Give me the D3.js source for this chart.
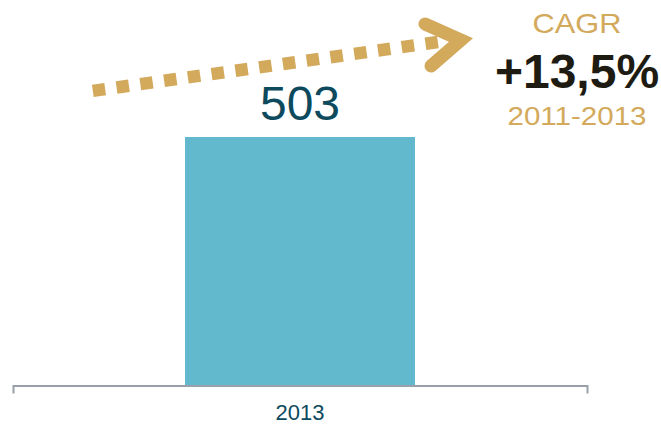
<!DOCTYPE html>
<html>
<head>
<meta charset="utf-8">
<script src="https://cdn.jsdelivr.net/npm/d3@7"></script>
<style>
  html, body { margin: 0; padding: 0; background: #fff; }
  svg { display: block; font-family: "Liberation Sans", Arial, sans-serif; }
</style>
</head>
<body>
<svg id="chart" width="661" height="426"></svg>
<script>
// data
var categories = ["2013"];
var values = [503];
var cagrTitle = "CAGR";
var cagrValue = "+13,5%";
var cagrPeriod = "2011-2013";

var width = 661, height = 426;
var baseY = 385.5, topY = 137;
var gold = "#d3a95c", teal = "#0e4a5e", barColor = "#62b8cd", axisColor = "#98a1a9";

var svg = d3.select("#chart");

var x = d3.scaleBand()
    .domain(categories)
    .range([13, 587])
    .paddingInner(0)
    .paddingOuter(0.748);

var y = d3.scaleLinear()
    .domain([0, d3.max(values)])
    .range([baseY, topY]);

// bars
svg.selectAll(".bar")
    .data(values)
    .enter().append("rect")
    .attr("class", "bar")
    .attr("x", function (d, i) { return x(categories[i]); })
    .attr("y", function (d) { return y(d); })
    .attr("width", x.bandwidth())
    .attr("height", function (d) { return baseY - y(d); })
    .attr("fill", barColor);

// value labels
svg.selectAll(".valueLabel")
    .data(values)
    .enter().append("text")
    .attr("class", "valueLabel")
    .attr("x", function (d, i) { return x(categories[i]) + x.bandwidth() / 2; })
    .attr("y", function (d) { return y(d) - 17; })
    .attr("text-anchor", "middle")
    .attr("font-size", 48)
    .attr("fill", teal)
    .text(function (d) { return d; });

// axis
var axis = svg.append("g")
    .attr("transform", "translate(0," + baseY + ")")
    .call(d3.axisBottom(x).tickSizeInner(0).tickSizeOuter(8).tickPadding(0));

axis.select(".domain")
    .attr("stroke", axisColor)
    .attr("stroke-width", 2)
    .attr("fill", "none");

axis.selectAll(".tick text")
    .attr("y", 34.5)
    .attr("dy", 0)
    .attr("font-size", 22)
    .attr("font-family", "Liberation Sans, Arial, sans-serif")
    .attr("fill", teal);

// dotted growth arrow
var arrowStart = [92.8, 90.9], arrowEnd = [438, 42];
svg.append("line")
    .attr("x1", arrowStart[0])
    .attr("y1", arrowStart[1])
    .attr("x2", arrowEnd[0])
    .attr("y2", arrowEnd[1])
    .attr("stroke", gold)
    .attr("stroke-width", 12.5)
    .attr("stroke-dasharray", "12.5 11.5")
    .attr("stroke-linecap", "butt");

svg.append("path")
    .attr("d", d3.line()([[425, 24], [461, 40], [431, 66]]))
    .attr("fill", "none")
    .attr("stroke", gold)
    .attr("stroke-width", 13)
    .attr("stroke-linecap", "round")
    .attr("stroke-linejoin", "miter");

// CAGR block
var cx = 577;
svg.append("text")
    .attr("x", cx).attr("y", 33)
    .attr("text-anchor", "middle")
    .attr("font-size", 28)
    .attr("textLength", 89)
    .attr("lengthAdjust", "spacingAndGlyphs")
    .attr("fill", gold)
    .text(cagrTitle);

svg.append("text")
    .attr("x", cx).attr("y", 88)
    .attr("text-anchor", "middle")
    .attr("font-size", 48)
    .attr("font-weight", "bold")
    .attr("fill", "#1e1b12")
    .text(cagrValue);

svg.append("text")
    .attr("x", cx).attr("y", 125)
    .attr("text-anchor", "middle")
    .attr("font-size", 25)
    .attr("textLength", 139)
    .attr("lengthAdjust", "spacingAndGlyphs")
    .attr("fill", gold)
    .text(cagrPeriod);
</script>
</body>
</html>
